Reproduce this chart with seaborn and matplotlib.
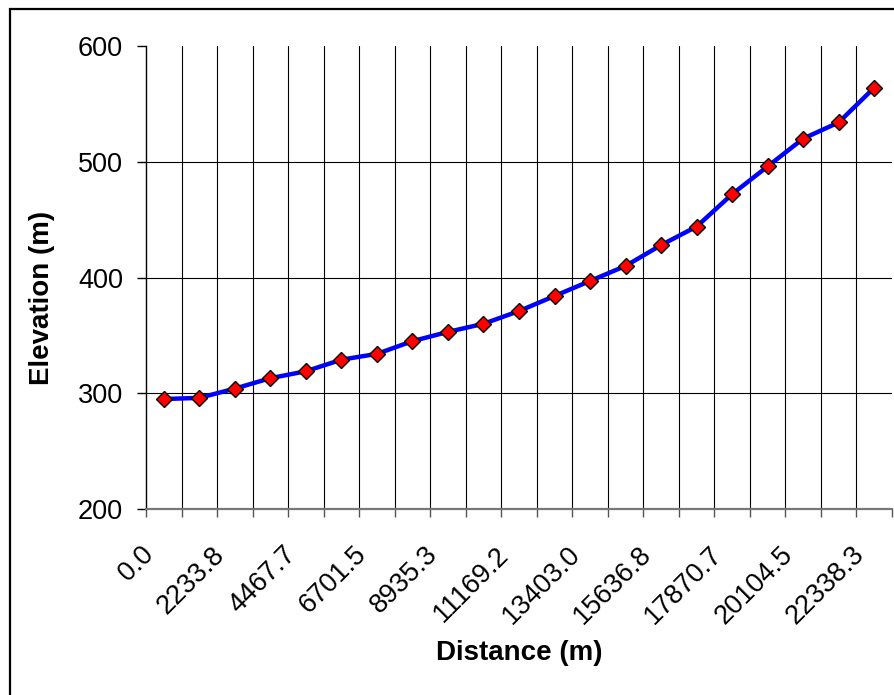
import numpy as np
import pandas as pd
import matplotlib
matplotlib.use('Agg')
import matplotlib.pyplot as plt
import matplotlib.transforms as mtransforms
from matplotlib.patches import Rectangle
import seaborn as sns

# distance along the profile (m) and elevation (m)
distance = [0.0, 1116.9, 2233.8, 3350.7, 4467.7, 5584.6, 6701.5, 7818.4,
            8935.3, 10052.2, 11169.2, 12286.1, 13403.0, 14519.9, 15636.8,
            16753.7, 17870.7, 18987.6, 20104.5, 21221.4, 22338.3]
elevation = [295, 296, 304, 313, 319, 329, 334, 345, 353, 360, 371,
             384, 397, 410, 428, 444, 472, 496, 520, 534, 564]
y_ticks = [200, 300, 400, 500, 600]

sns.set_style('white')
plt.rcParams['font.family'] = ['Liberation Sans', 'DejaVu Sans']
plt.rcParams['text.color'] = 'black'
plt.rcParams['axes.labelcolor'] = 'black'
plt.rcParams['xtick.color'] = 'black'
plt.rcParams['ytick.color'] = 'black'

df = pd.DataFrame({'pos': np.arange(len(distance)), 'elev': elevation})

fig = plt.figure(figsize=(8.94, 6.95), dpi=100)
ax = fig.add_axes([146 / 894, 1 - 509 / 695, 746 / 894, 463 / 695])

# chart area border (Excel style)
fig.patches.append(Rectangle((10 / 894, -0.02), 1.05, 1 - 9.5 / 695 + 0.02,
                             transform=fig.transFigure, fill=False,
                             edgecolor='black', linewidth=1.6, zorder=0))

# gridlines: interior category boundaries and interior y values
n = len(distance)
for b in np.arange(0.5, n - 1, 1.0):
    ax.axvline(b, color='black', lw=0.8, zorder=1)
for yv in y_ticks[1:-1]:
    ax.axhline(yv, color='black', lw=0.8, zorder=1)

sns.lineplot(data=df, x='pos', y='elev', ax=ax, color='#0000FF', lw=3.2,
             marker='D', markersize=8, markerfacecolor='red',
             markeredgecolor='black', markeredgewidth=1, zorder=3)

ax.set_xlim(-0.5, n - 0.5)
ax.set_ylim(200, 600)
ax.set_yticks(y_ticks)
ax.set_yticklabels([str(v) for v in y_ticks])

ax.set_xticks(df['pos'][::2])
ax.set_xticklabels([f'{d:.1f}' for d in distance[::2]], rotation=45,
                   ha='right', va='center', rotation_mode='anchor')
ax.set_xticks(np.arange(-0.5, n, 1.0), minor=True)
ax.tick_params(axis='x', which='major', length=0, pad=30, labelsize=19.5)
ax.tick_params(axis='x', which='minor', length=6, width=1, color='#555555',
               direction='out', bottom=True)
ax.tick_params(axis='y', which='major', length=6.5, width=1, color='black',
               pad=10, labelsize=19.5, left=True)

offset = mtransforms.ScaledTranslation(-14 / 100, 0, fig.dpi_scale_trans)
for lab in ax.get_xticklabels():
    lab.set_transform(lab.get_transform() + offset)

for side in ['top', 'right']:
    ax.spines[side].set_visible(False)
ax.spines['left'].set_color('black')
ax.spines['left'].set_linewidth(1)
ax.spines['bottom'].set_color('#777777')
ax.spines['bottom'].set_linewidth(1.6)

ax.set_xlabel('Distance (m)', fontsize=20, fontweight='bold')
ax.set_ylabel('Elevation (m)', fontsize=20, fontweight='bold')
ax.xaxis.set_label_coords(0.5, -0.283)
ax.yaxis.set_label_coords(-0.122, 0.456)

fig.savefig('out.png', dpi=100)
